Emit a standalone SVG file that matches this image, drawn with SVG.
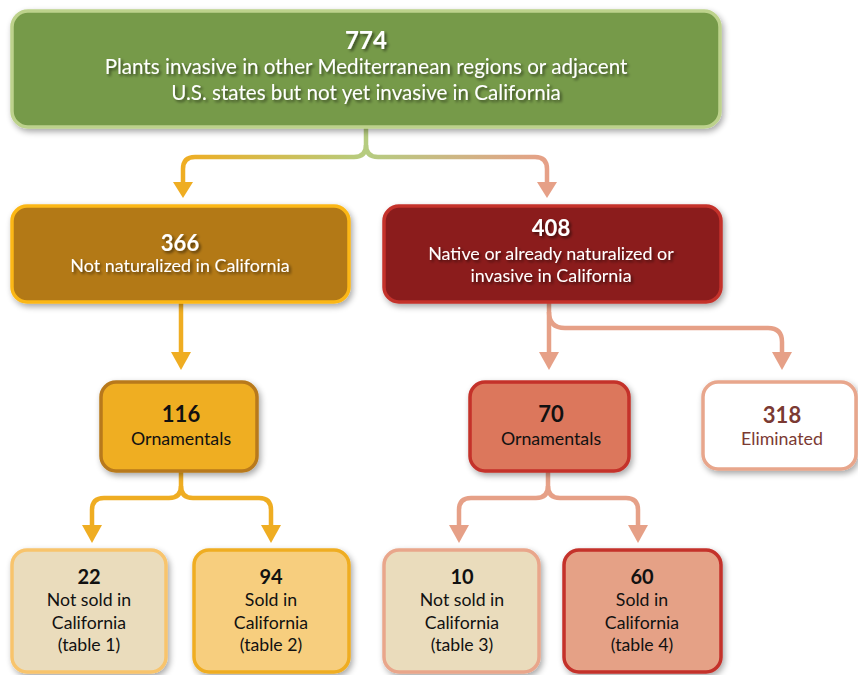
<svg xmlns="http://www.w3.org/2000/svg" width="858" height="675" viewBox="0 0 858 675">
<defs>
<filter id="sh" x="-10%" y="-10%" width="125%" height="135%">
<feGaussianBlur in="SourceAlpha" stdDeviation="3"/>
<feOffset dx="2" dy="3" result="b"/>
<feComponentTransfer><feFuncA type="linear" slope="0.35"/></feComponentTransfer>
<feMerge><feMergeNode/><feMergeNode in="SourceGraphic"/></feMerge>
</filter>
<filter id="tsh" x="-10%" y="-30%" width="125%" height="170%">
<feGaussianBlur in="SourceAlpha" stdDeviation="1.6"/>
<feOffset dx="1.5" dy="2" result="b"/>
<feComponentTransfer><feFuncA type="linear" slope="0.55"/></feComponentTransfer>
<feMerge><feMergeNode/><feMergeNode in="SourceGraphic"/></feMerge>
</filter>
<linearGradient id="gL" gradientUnits="userSpaceOnUse" x1="183" y1="0" x2="366" y2="0">
<stop offset="0" stop-color="#efad22"/><stop offset="1" stop-color="#b5cc80"/>
</linearGradient>
<linearGradient id="gR" gradientUnits="userSpaceOnUse" x1="366" y1="0" x2="547" y2="0">
<stop offset="0" stop-color="#b5cc80"/><stop offset="1" stop-color="#e6a087"/>
</linearGradient>
</defs>
<style>
text{font-family:Lato,"Open Sans","Liberation Sans",sans-serif;text-anchor:middle}
.n{font-weight:bold}
.w{fill:#ffffff}
.k{fill:#111111}
.c{fill:none;stroke-width:4.5}
.box{stroke-width:3.5;filter:url(#sh)}
</style>

<g id="connectors">
<path class="c" stroke="url(#gL)" d="M366,127 V145 Q366,157 354,157 H195 Q183,157 183,169 V185"/>
<path class="c" stroke="url(#gR)" d="M366,145 Q366,157 378,157 H535 Q547,157 547,169 V185"/>
<polygon fill="#efad22" points="173,182 193,182 183,198"/>
<polygon fill="#e6a087" points="537,182 557,182 547,198"/>

<path class="c" stroke="#efad22" d="M181,303 V355"/>
<polygon fill="#efad22" points="171,352 191,352 181,370"/>

<path class="c" stroke="#e6a087" d="M549,302 V355"/>
<path class="c" stroke="#e6a087" d="M549,312 Q549,328 565,328 H768 Q782,328 782,342 V355"/>
<polygon fill="#e6a087" points="539,352 559,352 549,370"/>
<polygon fill="#e6a087" points="772,352 792,352 782,370"/>

<path class="c" stroke="#efad22" d="M181,472 V486 Q181,498 169,498 H104 Q92,498 92,510 V528"/>
<path class="c" stroke="#efad22" d="M181,486 Q181,498 193,498 H259 Q271,498 271,510 V528"/>
<polygon fill="#efad22" points="82,525 102,525 92,543"/>
<polygon fill="#efad22" points="261,525 281,525 271,543"/>

<path class="c" stroke="#e6a087" d="M548,472 V486 Q548,498 536,498 H471 Q459,498 459,510 V528"/>
<path class="c" stroke="#e6a087" d="M548,486 Q548,498 560,498 H626 Q638,498 638,510 V528"/>
<polygon fill="#e6a087" points="449,525 469,525 459,543"/>
<polygon fill="#e6a087" points="628,525 648,525 638,543"/>
</g>

<g id="n774">
<rect class="box" x="12" y="11" width="708" height="116" rx="16" fill="#769a4a" stroke="#bdd28c"/>
<g filter="url(#tsh)">
<text class="n w" x="366" y="49" font-size="24">774</text>
<text class="w" x="366" y="74" font-size="20.6">Plants invasive in other Mediterranean regions or adjacent</text>
<text class="w" x="366" y="100" font-size="20.6">U.S. states but not yet invasive in California</text>
</g>
</g>

<g id="n366">
<rect class="box" x="12" y="206" width="337" height="96" rx="15" fill="#b37914" stroke="#fbb718"/>
<g filter="url(#tsh)">
<text class="n w" x="180" y="251" font-size="22">366</text>
<text class="w" x="180" y="272" font-size="17.9">Not naturalized in California</text>
</g>
</g>

<g id="n408">
<rect class="box" x="384" y="206" width="337" height="96" rx="15" fill="#8b1f1f" stroke="#c4302b"/>
<g filter="url(#tsh)">
<text class="n w" x="551" y="236" font-size="22">408</text>
<text class="w" x="551" y="260" font-size="17.9">Native or already naturalized or</text>
<text class="w" x="551" y="282" font-size="17.9">invasive in California</text>
</g>
</g>

<g id="n116">
<rect class="box" x="101" y="382" width="156" height="89" rx="15" fill="#efae23" stroke="#b8791a"/>
<text class="n k" x="181" y="422" font-size="22">116</text>
<text class="k" x="181" y="445" font-size="17.8">Ornamentals</text>
</g>

<g id="n70">
<rect class="box" x="470" y="382" width="159" height="89" rx="15" fill="#dc775b" stroke="#c4312a"/>
<text class="n k" x="551" y="422" font-size="22">70</text>
<text class="k" x="551" y="445" font-size="17.8">Ornamentals</text>
</g>

<g id="n318">
<rect class="box" x="703" y="382" width="153" height="87" rx="15" fill="#ffffff" stroke="#e8a68c"/>
<text class="n" x="782" y="423" font-size="22" fill="#7b3a33">318</text>
<text x="782" y="445" font-size="17.8" fill="#7b3a33">Eliminated</text>
</g>

<g id="n22">
<rect class="box" x="12" y="550" width="154" height="122" rx="15" fill="#eadcbc" stroke="#f8c46c"/>
<text class="n k" x="89" y="584" font-size="20">22</text>
<text class="k" x="89" y="606" font-size="17.7">Not sold in</text>
<text class="k" x="89" y="629" font-size="17.7">California</text>
<text class="k" x="89" y="651" font-size="17.7">(table 1)</text>
</g>

<g id="n94">
<rect class="box" x="194" y="550" width="155" height="122" rx="15" fill="#f7ce7e" stroke="#efad22"/>
<text class="n k" x="271" y="584" font-size="20">94</text>
<text class="k" x="271" y="606" font-size="17.7">Sold in</text>
<text class="k" x="271" y="629" font-size="17.7">California</text>
<text class="k" x="271" y="651" font-size="17.7">(table 2)</text>
</g>

<g id="n10">
<rect class="box" x="384" y="550" width="155" height="122" rx="15" fill="#eadcbc" stroke="#e9a68b"/>
<text class="n k" x="462" y="584" font-size="20">10</text>
<text class="k" x="462" y="606" font-size="17.7">Not sold in</text>
<text class="k" x="462" y="629" font-size="17.7">California</text>
<text class="k" x="462" y="651" font-size="17.7">(table 3)</text>
</g>

<g id="n60">
<rect class="box" x="564" y="550" width="157" height="122" rx="15" fill="#e5a186" stroke="#c4302b"/>
<text class="n k" x="642" y="584" font-size="20">60</text>
<text class="k" x="642" y="606" font-size="17.7">Sold in</text>
<text class="k" x="642" y="629" font-size="17.7">California</text>
<text class="k" x="642" y="651" font-size="17.7">(table 4)</text>
</g>
</svg>
